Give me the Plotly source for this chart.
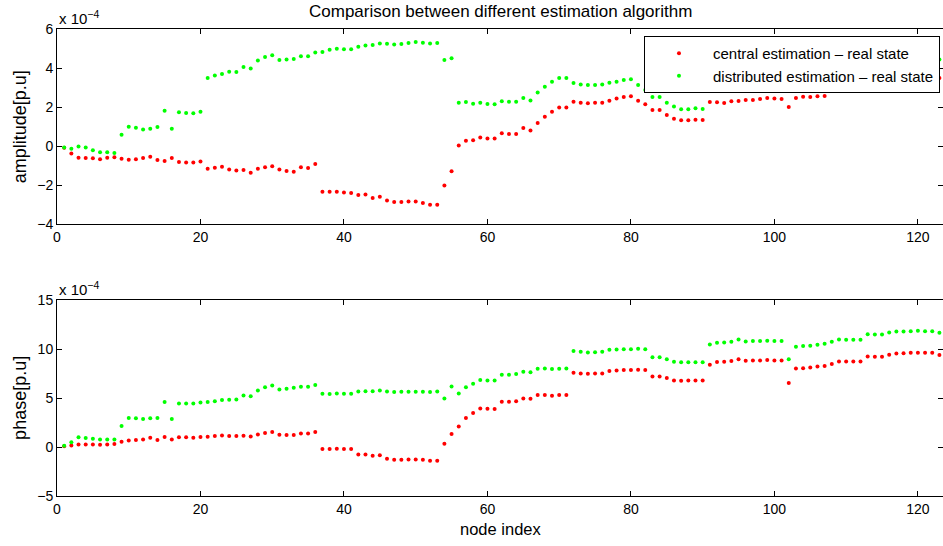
import plotly.graph_objects as go

# node index 1..123
nodes = list(range(1, 124))

# amplitude error (x 1e-4)
amp_central = [
    -0.085, -0.38, -0.60, -0.62, -0.63, -0.68, -0.60, -0.58, -0.65, -0.70,
    -0.68, -0.62, -0.55, -0.72, -0.77, -0.62, -0.82, -0.84, -0.85, -0.79,
    -1.16, -1.11, -1.06, -1.20, -1.25, -1.23, -1.37, -1.16, -1.09, -1.04, -1.21,
    -1.28, -1.32, -1.09, -1.13, -0.92, -2.34, -2.34, -2.34, -2.38, -2.41,
    -2.51, -2.48, -2.67, -2.60, -2.79, -2.87, -2.87, -2.85, -2.84, -2.92,
    -3.01, -3.01, -2.03, -1.30, 0.03, 0.27, 0.29, 0.44, 0.38, 0.38,
    0.65, 0.62, 0.62, 0.92, 0.79, 1.18, 1.50, 1.76, 1.97, 1.97,
    2.27, 2.22, 2.19, 2.22, 2.22, 2.32, 2.43, 2.51, 2.55, 2.32,
    2.14, 1.85, 1.85, 1.59, 1.40, 1.32, 1.32, 1.35, 1.33, 2.26, 2.24,
    2.21, 2.29, 2.31, 2.36, 2.36, 2.41, 2.46, 2.43, 2.41, 2.00,
    2.46, 2.53, 2.51, 2.55, 2.56, 3.04, 3.16, 3.18, 3.16, 3.18,
    3.32, 3.33, 3.34, 3.40, 3.44, 3.45, 3.46, 3.47, 3.47, 3.47, 3.49,
]
amp_distributed = [
    -0.07, -0.14, -0.02, -0.07, -0.22, -0.32, -0.32, -0.36, 0.58, 0.99,
    0.94, 0.85, 0.89, 0.97, 1.81, 0.89, 1.73, 1.69, 1.68, 1.76,
    3.49, 3.61, 3.69, 3.81, 3.79, 4.05, 3.97, 4.38, 4.56, 4.65, 4.41,
    4.44, 4.46, 4.60, 4.60, 4.80, 4.82, 4.94, 4.99, 4.96, 4.96,
    5.09, 5.15, 5.18, 5.26, 5.25, 5.21, 5.23, 5.28, 5.33, 5.30,
    5.26, 5.28, 4.41, 4.50, 2.22, 2.26, 2.17, 2.22, 2.15, 2.14,
    2.29, 2.27, 2.27, 2.46, 2.34, 2.74, 3.04, 3.30, 3.49, 3.49,
    3.23, 3.16, 3.13, 3.13, 3.15, 3.25, 3.30, 3.38, 3.42, 3.13,
    2.87, 2.51, 2.51, 2.22, 2.02, 1.88, 1.88, 1.93, 1.90, 3.03, 3.01,
    2.97, 3.04, 3.03, 3.08, 3.09, 3.15, 3.15, 3.13, 3.13, 3.13,
    3.38, 3.42, 3.43, 3.46, 3.48, 3.92, 4.02, 4.03, 4.02, 4.03,
    4.25, 4.25, 4.26, 4.33, 4.37, 4.38, 4.40, 4.41, 4.41, 4.41, 4.43,
]

# phase error (x 1e-4)
ph_central = [
    0.07, 0.17, 0.27, 0.27, 0.27, 0.24, 0.27, 0.31, 0.54, 0.68,
    0.71, 0.78, 0.95, 0.71, 1.02, 0.78, 0.99, 0.99, 0.95, 1.02,
    1.05, 1.12, 1.19, 1.12, 1.12, 1.16, 1.09, 1.29, 1.43, 1.53, 1.26,
    1.22, 1.22, 1.39, 1.39, 1.53, -0.20, -0.20, -0.17, -0.20, -0.20,
    -0.75, -0.75, -0.88, -0.85, -1.19, -1.29, -1.29, -1.26, -1.26, -1.29,
    -1.39, -1.39, 0.34, 1.33, 2.11, 2.96, 3.47, 3.95, 3.91, 3.88,
    4.63, 4.63, 4.69, 4.97, 4.93, 5.31, 5.31, 5.24, 5.31, 5.31,
    7.59, 7.52, 7.48, 7.52, 7.52, 7.76, 7.82, 7.86, 7.86, 7.89,
    7.86, 7.21, 7.21, 7.04, 6.80, 6.77, 6.80, 6.80, 6.80, 8.40, 8.69,
    8.71, 8.78, 8.98, 8.81, 8.84, 8.84, 8.88, 8.84, 8.84, 6.53,
    8.03, 8.06, 8.13, 8.23, 8.27, 8.47, 8.74, 8.74, 8.74, 8.74,
    9.25, 9.22, 9.22, 9.42, 9.56, 9.59, 9.63, 9.63, 9.63, 9.63, 9.39,
]
ph_distributed = [
    0.14, 0.48, 0.99, 0.92, 0.85, 0.78, 0.78, 0.78, 2.14, 2.96,
    2.93, 2.86, 2.93, 2.96, 4.59, 2.86, 4.46, 4.46, 4.46, 4.56,
    4.59, 4.69, 4.80, 4.83, 4.86, 5.27, 5.20, 5.78, 6.12, 6.29, 5.88,
    5.95, 6.05, 6.16, 6.16, 6.33, 5.44, 5.41, 5.48, 5.44, 5.44,
    5.68, 5.71, 5.71, 5.78, 5.68, 5.61, 5.65, 5.65, 5.65, 5.65,
    5.61, 5.68, 4.97, 6.19, 5.48, 6.12, 6.46, 6.84, 6.80, 6.80,
    7.38, 7.38, 7.45, 7.69, 7.65, 7.99, 8.03, 7.96, 7.99, 8.03,
    9.80, 9.73, 9.66, 9.69, 9.73, 9.93, 9.97, 10.0, 10.0, 10.03,
    10.0, 9.18, 9.18, 8.98, 8.71, 8.67, 8.67, 8.67, 8.67, 10.48, 10.66,
    10.68, 10.75, 10.99, 10.78, 10.82, 10.82, 10.85, 10.82, 10.82, 8.98,
    10.24, 10.31, 10.34, 10.44, 10.54, 10.75, 10.99, 10.95, 10.95, 10.95,
    11.53, 11.50, 11.50, 11.70, 11.80, 11.80, 11.84, 11.87, 11.84, 11.84, 11.67,
]

x_ticks = [0, 20, 40, 60, 80, 100, 120]
amp_ticks = [-4, -2, 0, 2, 4, 6]
ph_ticks = [-5, 0, 5, 10, 15]

names = ["central estimation \u2013 real state", "distributed estimation \u2013 real state"]
RED = "#ff0000"
GREEN = "#00ff00"
FONT = "Liberation Sans, Arial, sans-serif"

fig = go.Figure()
fig.add_trace(go.Scatter(x=nodes, y=amp_central, mode="markers", name=names[0],
                         marker=dict(color=RED, size=4), xaxis="x", yaxis="y"))
fig.add_trace(go.Scatter(x=nodes, y=amp_distributed, mode="markers", name=names[1],
                         marker=dict(color=GREEN, size=4), xaxis="x", yaxis="y"))
fig.add_trace(go.Scatter(x=nodes, y=ph_central, mode="markers", showlegend=False,
                         marker=dict(color=RED, size=4), xaxis="x2", yaxis="y2"))
fig.add_trace(go.Scatter(x=nodes, y=ph_distributed, mode="markers", showlegend=False,
                         marker=dict(color=GREEN, size=4), xaxis="x2", yaxis="y2"))

axis_common = dict(showgrid=False, zeroline=False, showline=True, linecolor="black",
                   linewidth=1, mirror="ticks", ticks="inside", ticklen=5,
                   tickcolor="black", automargin=False,
                   tickfont=dict(size=14, color="black", family=FONT))

M_T, M_B = 28.5, 50
plot_h = 546 - M_T - M_B

fig.update_layout(
    width=943, height=546,
    margin=dict(l=57, r=0, t=M_T, b=M_B, autoexpand=False),
    paper_bgcolor="white", plot_bgcolor="white",
    font=dict(family=FONT, size=14, color="black"),
    xaxis=dict(domain=[0, 1], range=[0, 123.5], tickvals=x_ticks, anchor="y", **axis_common),
    yaxis=dict(domain=[0.5824, 1], range=[-4, 6], tickvals=amp_ticks, anchor="x", **axis_common),
    xaxis2=dict(domain=[0, 1], range=[0, 123.5], tickvals=x_ticks, anchor="y2", **axis_common),
    yaxis2=dict(domain=[0, 0.4193], range=[-5, 15], tickvals=ph_ticks, anchor="x2", **axis_common),
    legend=dict(x=0.9966, y=0.985, xanchor="right", yanchor="top", xref="paper", yref="paper",
                bgcolor="white", bordercolor="black", borderwidth=1,
                font=dict(size=15, family=FONT, color="black"), itemwidth=58,
                tracegroupgap=0),
    showlegend=True,
)

ann = [
    dict(text="Comparison between different estimation algorithm", x=0.5,
         y=(546 - M_B - 11) / plot_h, xref="paper", yref="paper", showarrow=False,
         yanchor="middle", font=dict(size=17)),
    dict(text="x 10<sup>\u22124</sup>", x=0.0, y=1.0, xref="paper", yref="paper",
         xanchor="left", yanchor="bottom", showarrow=False, font=dict(size=15), yshift=0),
    dict(text="x 10<sup>\u22124</sup>", x=0.0, y=0.4193, xref="paper", yref="paper",
         xanchor="left", yanchor="bottom", showarrow=False, font=dict(size=15), yshift=0),
    dict(text="amplitude[p.u]", x=-0.042, y=(0.5824 + 1) / 2, xref="paper", yref="paper",
         textangle=-90, showarrow=False, xanchor="center", yanchor="middle", font=dict(size=18)),
    dict(text="phase[p.u]", x=-0.042, y=0.4193 / 2, xref="paper", yref="paper",
         textangle=-90, showarrow=False, xanchor="center", yanchor="middle", font=dict(size=18)),
    dict(text="node index", x=0.5, y=(546 - M_B - 529) / plot_h, xref="paper", yref="paper",
         showarrow=False, yanchor="middle", font=dict(size=16.5)),
]
fig.update_layout(annotations=ann)

fig.write_html("out.html", config={"displayModeBar": False},
               post_script="document.body.style.margin='0';document.body.style.overflow='hidden';")
